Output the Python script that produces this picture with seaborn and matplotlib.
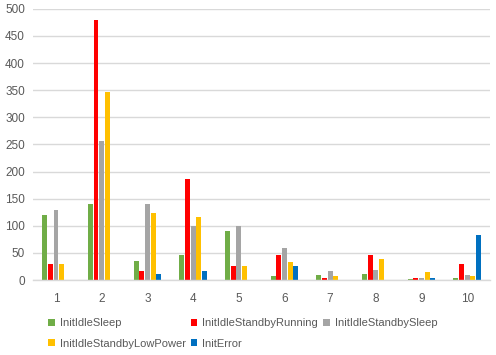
import matplotlib
matplotlib.use("Agg")
import matplotlib.pyplot as plt
import seaborn as sns
import pandas as pd

# --- datos ---
CATEGORIES = ["1", "2", "3", "4", "5", "6", "7", "8", "9", "10"]
SERIES = ["InitIdleSleep", "InitIdleStandbyRunning", "InitIdleStandbySleep",
          "InitIdleStandbyLowPower", "InitError"]

init_idle_sleep = [120, 140, 35, 46, 90, 7, 9, 11, 2, 4]
init_idle_standby_running = [30, 480, 17, 186, 26, 46, 4, 46, 4, 30]
init_idle_standby_sleep = [130, 256, 140, 100, 100, 59, 17, 18, 4, 9]
init_idle_standby_low_power = [30, 347, 124, 116, 26, 33, 7, 39, 15, 7]
init_error = [0, 0, 11, 17, 0, 26, 0, 0, 4, 83]

COLORS = ["#70AD47", "#FF0000", "#A5A5A5", "#FFC000", "#0070C0"]

values = [init_idle_sleep, init_idle_standby_running, init_idle_standby_sleep,
          init_idle_standby_low_power, init_error]
rows = []
for name, vals in zip(SERIES, values):
    for cat, v in zip(CATEGORIES, vals):
        rows.append({"cat": cat, "serie": name, "valor": v})
df = pd.DataFrame(rows)

plt.rcParams["font.family"] = ["Liberation Sans", "DejaVu Sans"]

fig = plt.figure(figsize=(4.96, 3.55), dpi=100)
ax = fig.add_axes([0.067, 0.211, 0.921, 0.764])

sns.barplot(data=df, x="cat", y="valor", hue="serie", order=CATEGORIES,
            hue_order=SERIES, palette=COLORS, width=0.62, gap=0.15,
            saturation=1, errorbar=None, ax=ax, legend=True)

ax.set_ylim(0, 500)
ax.set_yticks(range(0, 501, 50))
ax.set_xlim(-0.5, 9.5)
ax.set_xlabel("")
ax.set_ylabel("")
ax.grid(axis="y", color="#D9D9D9", linewidth=1)
ax.set_axisbelow(True)
for s in ["top", "left", "right"]:
    ax.spines[s].set_visible(False)
ax.spines["bottom"].set_color("#D9D9D9")
ax.spines["bottom"].set_linewidth(1)
ax.tick_params(length=0, labelsize=8.5, colors="#595959", pad=6)
ax.tick_params(axis="x", pad=9)

# leyenda en filas (la de matplotlib se llena por columnas)
handles, labels = ax.get_legend_handles_labels()
ax.get_legend().remove()
orden = [0, 3, 1, 4, 2]
fig.legend([handles[i] for i in orden], [labels[i] for i in orden],
           loc="lower left", bbox_to_anchor=(0.088, 0.005),
           ncol=3, frameon=False, fontsize=8, labelcolor="#595959",
           handlelength=0.6, handleheight=0.6, handletextpad=0.45,
           columnspacing=0.45, labelspacing=0.95, borderaxespad=0.0)

fig.savefig("out.png", dpi=100)
